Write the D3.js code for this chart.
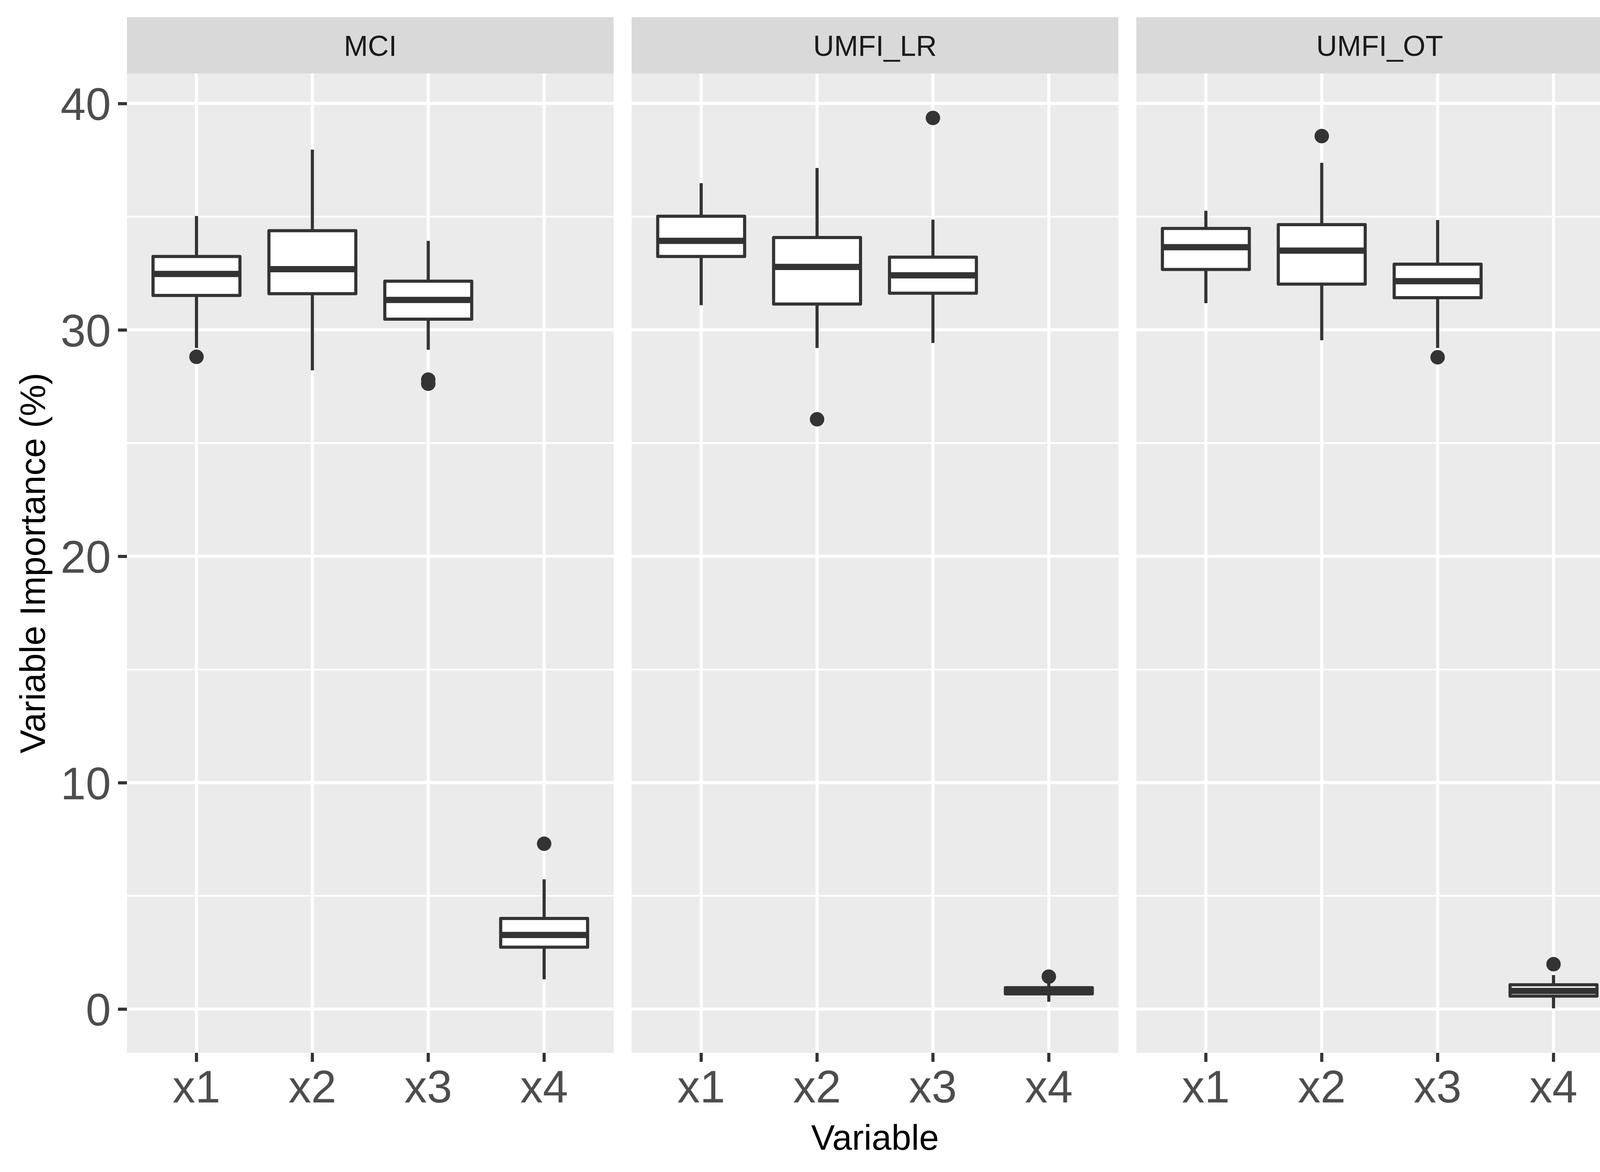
<!DOCTYPE html>
<html>
<head>
<meta charset="utf-8">
<script src="https://cdn.jsdelivr.net/npm/d3@7"></script>
<style>
  html, body { margin: 0; padding: 0; background: #fff; overflow: hidden; }
  svg { display: block; }
  text { font-family: 'Liberation Sans', Arial, sans-serif; }
</style>
</head>
<body>
<div id="chart"></div>
<script>
// facets and categories
const methods = ['MCI', 'UMFI_LR', 'UMFI_OT']
const variables = ['x1', 'x2', 'x3', 'x4']
const yTicks = [0, 10, 20, 30, 40]
const yMinorTicks = [5, 15, 25, 35]

// box stats per variable: [lower whisker, q1, median, q3, upper whisker]
const mciStats = [
  [29.2, 31.52, 32.47, 33.24, 35.03],
  [28.21, 31.6, 32.68, 34.38, 37.96],
  [29.12, 30.47, 31.32, 32.15, 33.93],
  [1.31, 2.73, 3.27, 4.0, 5.73],
]
const mciOutliers = [[28.81], [], [27.8, 27.62], [7.3]]

const lrStats = [
  [31.09, 33.24, 33.93, 35.02, 36.48],
  [29.2, 31.14, 32.78, 34.08, 37.15],
  [29.42, 31.62, 32.41, 33.21, 34.87],
  [0.32, 0.67, 0.8, 0.94, 1.25],
]
const lrOutliers = [[], [26.05], [39.36], [1.43]]

const otStats = [
  [31.18, 32.67, 33.65, 34.48, 35.26],
  [29.54, 32.02, 33.5, 34.65, 37.38],
  [29.2, 31.42, 32.15, 32.9, 34.85],
  [0.03, 0.57, 0.8, 1.07, 1.5],
]
const otOutliers = [[], [38.56], [28.79], [1.98]]

const statsByMethod = [mciStats, lrStats, otStats]
const outliersByMethod = [mciOutliers, lrOutliers, otOutliers]

const width = 4200
const height = 3000
const margin = { top: 44, right: 45, bottom: 0, left: 325 }
const stripH = 144
const panelGap = 46
const panelBottom = 2695
const panelTop = margin.top + stripH
const panelW = (width - margin.left - margin.right - panelGap * 2) / 3

const ink = '#333333'
const lw = 8

function buildData() {
  return methods.map((m, mi) => ({
    method: m,
    boxes: variables.map((v, vi) => {
      const s = statsByMethod[mi][vi]
      return {
        variable: v,
        lo: s[0], q1: s[1], med: s[2], q3: s[3], hi: s[4],
        outliers: outliersByMethod[mi][vi],
      }
    }),
  }))
}

function yScale(data) {
  const all = data.flatMap(p => p.boxes.flatMap(b => [b.lo, b.hi, ...b.outliers]))
  const [lo, hi] = d3.extent(all)
  const pad = (hi - lo) * 0.05
  return d3.scaleLinear().domain([lo - pad, hi + pad]).range([panelBottom, panelTop])
}

function xScale() {
  return d3.scaleBand().domain(variables).range([0, panelW]).paddingInner(0).paddingOuter(0.1)
}

function drawPanel(g, panel, x, y, i) {
  g.append('rect')
    .attr('x', 0).attr('y', panelTop)
    .attr('width', panelW).attr('height', panelBottom - panelTop)
    .attr('fill', '#EBEBEB')

  // strip
  g.append('rect')
    .attr('x', 0).attr('y', margin.top)
    .attr('width', panelW).attr('height', stripH)
    .attr('fill', '#D9D9D9')
  g.append('text')
    .attr('x', panelW / 2).attr('y', margin.top + stripH / 2)
    .attr('dy', '0.36em')
    .attr('text-anchor', 'middle')
    .attr('font-size', 74)
    .attr('fill', '#1A1A1A')
    .text(panel.method)

  // grid
  g.selectAll('.minor')
    .data(yMinorTicks)
    .join('line')
    .attr('x1', 0).attr('x2', panelW)
    .attr('y1', d => y(d)).attr('y2', d => y(d))
    .attr('stroke', '#fff').attr('stroke-width', 4.3)
  g.selectAll('.major')
    .data(yTicks)
    .join('line')
    .attr('x1', 0).attr('x2', panelW)
    .attr('y1', d => y(d)).attr('y2', d => y(d))
    .attr('stroke', '#fff').attr('stroke-width', lw)
  g.selectAll('.vgrid')
    .data(variables)
    .join('line')
    .attr('x1', d => x(d) + x.bandwidth() / 2).attr('x2', d => x(d) + x.bandwidth() / 2)
    .attr('y1', panelTop).attr('y2', panelBottom)
    .attr('stroke', '#fff').attr('stroke-width', lw)

  const bw = x.bandwidth() * 0.75
  const box = g.selectAll('g.box')
    .data(panel.boxes)
    .join('g')
    .attr('class', 'box')
    .attr('transform', d => `translate(${x(d.variable) + x.bandwidth() / 2},0)`)

  box.append('line')
    .attr('x1', 0).attr('x2', 0)
    .attr('y1', d => y(d.hi)).attr('y2', d => y(d.q3))
    .attr('stroke', ink).attr('stroke-width', lw)
  box.append('line')
    .attr('x1', 0).attr('x2', 0)
    .attr('y1', d => y(d.q1)).attr('y2', d => y(d.lo))
    .attr('stroke', ink).attr('stroke-width', lw)
  box.append('rect')
    .attr('x', -bw / 2).attr('width', bw)
    .attr('y', d => y(d.q3)).attr('height', d => y(d.q1) - y(d.q3))
    .attr('fill', '#fff')
    .attr('stroke', ink).attr('stroke-width', lw)
    .attr('stroke-linejoin', 'round')
  box.append('line')
    .attr('x1', -bw / 2).attr('x2', bw / 2)
    .attr('y1', d => y(d.med)).attr('y2', d => y(d.med))
    .attr('stroke', ink).attr('stroke-width', lw * 2)
  box.selectAll('circle')
    .data(d => d.outliers)
    .join('circle')
    .attr('cx', 0).attr('cy', d => y(d))
    .attr('r', 18.5)
    .attr('fill', ink)

  // bottom axis
  const ax = g.append('g')
    .attr('transform', `translate(0,${panelBottom})`)
    .call(d3.axisBottom(x).tickSize(23).tickPadding(22))
  styleAxis(ax)

  if (i === 0) {
    const ay = g.append('g')
      .call(d3.axisLeft(y).tickValues(yTicks).tickSize(23).tickPadding(18))
    styleAxis(ay)
    ay.selectAll('text').attr('dy', '0.36em')
  }
}

function styleAxis(a) {
  a.select('.domain').remove()
  a.selectAll('line').attr('stroke', ink).attr('stroke-width', lw)
  a.selectAll('text')
    .attr('font-size', 116)
    .attr('fill', '#4D4D4D')
    .attr('font-family', "'Liberation Sans', Arial, sans-serif")
}

function drawChart() {
  const data = buildData()
  const y = yScale(data)
  const x = xScale()

  const svg = d3.select('#chart')
    .append('svg')
    .attr('width', width)
    .attr('height', height)
    .attr('viewBox', [0, 0, width, height])

  svg.append('rect').attr('width', width).attr('height', height).attr('fill', '#fff')

  data.forEach((panel, i) => {
    const g = svg.append('g')
      .attr('transform', `translate(${margin.left + i * (panelW + panelGap)},0)`)
    drawPanel(g, panel, x, y, i)
  })

  svg.append('text')
    .attr('x', margin.left + (width - margin.left - margin.right) / 2)
    .attr('y', 2943)
    .attr('text-anchor', 'middle')
    .attr('font-size', 91)
    .attr('fill', '#000')
    .text('Variable')

  svg.append('text')
    .attr('transform', `translate(115,${(panelTop + panelBottom) / 2}) rotate(-90)`)
    .attr('text-anchor', 'middle')
    .attr('font-size', 91)
    .attr('fill', '#000')
    .text('Variable Importance (%)')
}

drawChart()
</script>
</body>
</html>
